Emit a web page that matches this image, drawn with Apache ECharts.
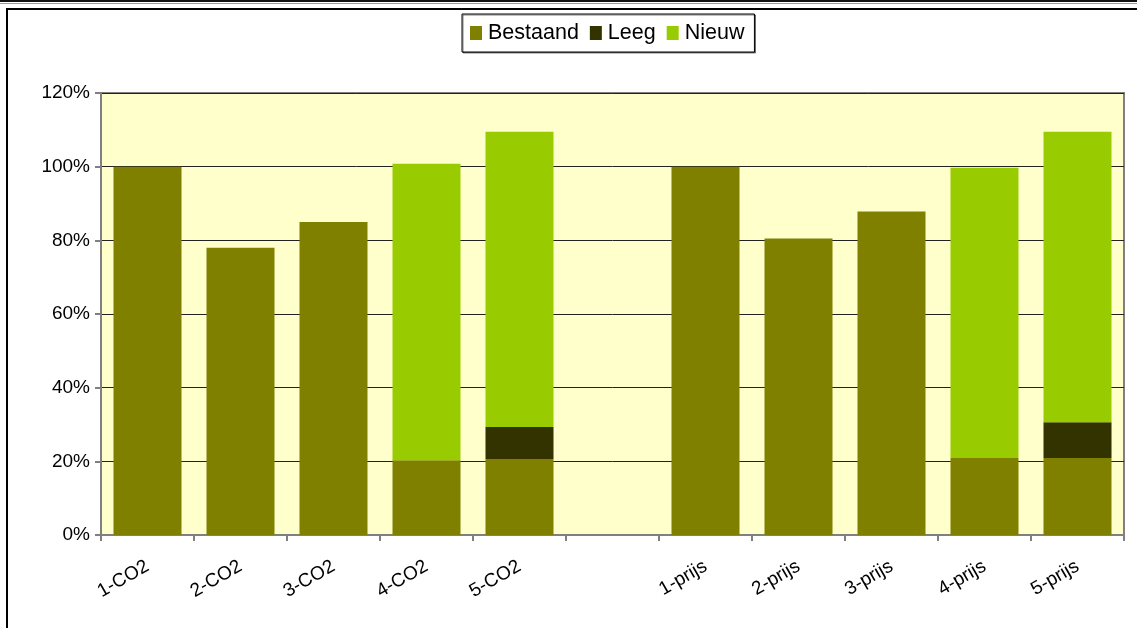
<!DOCTYPE html>
<html>
<head>
<meta charset="utf-8">
<script src="https://cdn.jsdelivr.net/npm/echarts@6/dist/echarts.min.js"></script>
<style>
  html, body { margin: 0; padding: 0; background: #fff; }
  #chart { width: 1137px; height: 628px; }
</style>
</head>
<body>
<div id="chart"></div>
<script>
// scenario categories (empty slot separates the two groups)
const categories = ['1-CO2', '2-CO2', '3-CO2', '4-CO2', '5-CO2', '', '1-prijs', '2-prijs', '3-prijs', '4-prijs', '5-prijs'];

// shares in %
const bestaand = [100, 78, 85, 20.3, 20.6, null, 100, 80.5, 87.8, 20.9, 20.9];
const leeg     = [0, 0, 0, 0, 8.7, null, 0, 0, 0, 0, 9.7];
const nieuw    = [0, 0, 0, 80.5, 80.2, null, 0, 0, 0, 78.8, 78.9];

const yTicks = [0, 20, 40, 60, 80, 100, 120];

const font = 'Liberation Sans, Arial, sans-serif';

const option = {
    animation: false,
    textStyle: { fontFamily: font },
    graphic: [
        { type: 'rect', shape: { x: 0, y: 0, width: 1137, height: 2 }, style: { fill: '#111' } },
        { type: 'rect', shape: { x: 0, y: 3, width: 1137, height: 1 }, style: { fill: '#999' } },
        { type: 'rect', shape: { x: 7, y: 9, width: 1140, height: 630 }, style: { fill: 'none', stroke: '#000', lineWidth: 2 } }
    ],
    legend: {
        top: 14,
        left: 462,
        data: ['Bestaand', 'Leeg', 'Nieuw'],
        icon: 'rect',
        itemWidth: 12,
        itemHeight: 14,
        itemGap: 11,
        padding: [8, 10, 8, 8],
        borderColor: '#000',
        borderWidth: 1,
        backgroundColor: '#fff',
        shadowColor: 'rgba(0,0,0,0.5)',
        shadowOffsetX: 1,
        shadowOffsetY: 1,
        textStyle: { fontSize: 21.5, color: '#000', fontFamily: font, padding: [0, 0, 0, 1] }
    },
    grid: {
        left: 101,
        right: 13,
        top: 93,
        bottom: 93,
        show: true,
        backgroundColor: '#FFFFCC',
        borderColor: '#808080',
        borderWidth: 2
    },
    xAxis: {
        type: 'category',
        data: categories,
        axisLine: { lineStyle: { color: '#808080', width: 2 } },
        axisTick: { show: true, length: 6, lineStyle: { color: '#808080', width: 2 } },
        axisLabel: { rotate: 30, fontSize: 19, color: '#000', margin: 30, interval: 0, fontFamily: font }
    },
    yAxis: {
        type: 'value',
        min: yTicks[0],
        max: yTicks[yTicks.length - 1],
        interval: 20,
        axisLine: { show: true, lineStyle: { color: '#808080', width: 2 } },
        axisTick: { show: true, length: 6, lineStyle: { color: '#808080', width: 2 } },
        axisLabel: { formatter: '{value}%', fontSize: 19, color: '#000', margin: 11, fontFamily: font },
        splitLine: { lineStyle: { color: '#222', width: 1 } }
    },
    series: [
        { name: 'Bestaand', type: 'bar', stack: 'total', color: '#808000', barWidth: 68, data: bestaand },
        { name: 'Leeg', type: 'bar', stack: 'total', color: '#333300', barWidth: 68, data: leeg },
        { name: 'Nieuw', type: 'bar', stack: 'total', color: '#99CC00', barWidth: 68, data: nieuw }
    ]
};

const chart = echarts.init(document.getElementById('chart'));
chart.setOption(option);
window.addEventListener('resize', () => chart.resize());
</script>
</body>
</html>
